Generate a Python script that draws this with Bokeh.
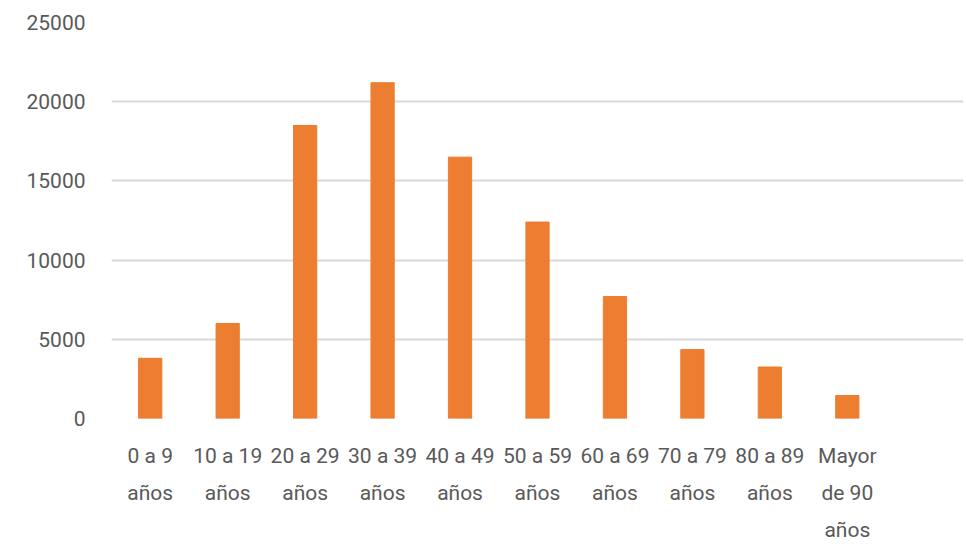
from bokeh.plotting import figure
from bokeh.models import FixedTicker, ColumnDataSource, Range1d
from bokeh.embed import file_html
from bokeh.resources import INLINE

categories = ["0 a 9\naños", "10 a 19\naños", "20 a 29\naños", "30 a 39\naños",
              "40 a 49\naños", "50 a 59\naños", "60 a 69\naños", "70 a 79\naños",
              "80 a 89\naños", "Mayor\nde 90\naños"]
values = [3800, 6000, 18500, 21200, 16500, 12400, 7700, 4350, 3250, 1450]
y_ticks = [0, 5000, 10000, 15000, 20000, 25000]

xs = [i + 0.5 for i in range(len(categories))]
src = ColumnDataSource(dict(x=xs, top=values))

FONT = "Roboto"
GRAY = "#595959"

p = figure(width=964, height=544, output_backend="svg", toolbar_location=None,
           x_range=Range1d(0, len(categories) + 1), y_range=Range1d(0, 25000),
           min_border_top=22, min_border_left=111, min_border_right=1,
           min_border_bottom=124)
p.vbar(x="x", top="top", width=0.3, source=src, color="#ED7D31")

p.outline_line_color = None
p.xgrid.grid_line_color = None
p.ygrid.grid_line_color = "#d9d9d9"
p.ygrid.grid_line_width = 2
p.yaxis.ticker = FixedTicker(ticks=y_ticks)
p.xaxis.ticker = FixedTicker(ticks=xs)
p.xaxis.major_label_overrides = {x: c for x, c in zip(xs, categories)}

for ax in (p.xaxis[0], p.yaxis[0]):
    ax.axis_line_color = None
    ax.major_tick_line_color = None
    ax.minor_tick_line_color = None
    ax.major_label_text_font = FONT
    ax.major_label_text_font_size = "21px"
    ax.major_label_text_color = GRAY
p.xaxis.major_label_text_line_height = 1.55
p.yaxis.major_label_standoff = 20
p.xaxis.major_label_standoff = 19

open("out.html", "w").write(file_html(p, INLINE))
